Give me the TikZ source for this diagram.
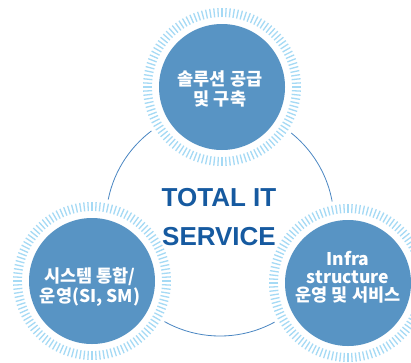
\documentclass[tikz,border=0pt]{standalone}
\usepackage{fontspec}
\newfontfamily\kr{Noto Sans CJK KR}
\newfontfamily\ttl{Liberation Sans}
\definecolor{disc}{HTML}{5894C4}
\definecolor{tick}{HTML}{A5DAF5}
\definecolor{ring}{HTML}{4A86C2}
\definecolor{title}{HTML}{165AA0}
\tikzset{
  solidc/.style={circle,fill=disc,minimum size=126pt,inner sep=0pt},
  labtxt/.style={text=white,align=center,font=\kr\bfseries\fontsize{17.5}{22}\selectfont},
  tickl/.style={draw=tick,line width=1.3pt},
}
\newcommand{\tickring}[1]{%
  \fill[white] (#1) circle (83);
  \foreach \a in {0,3,...,357} {\draw[tickl] ($(#1)+(\a:70)$) -- ($(#1)+(\a:79)$);}
}
\usetikzlibrary{calc}
\begin{document}
\begin{tikzpicture}[x=1pt,y=-1pt]
\useasboundingbox (0,0) rectangle (411,362);
\clip (0,0) rectangle (411,362);
\coordinate (big) at (220,222);
\coordinate (ct) at (222,87);
\coordinate (cl) at (92,281);
\coordinate (cr) at (348,283);
\draw[ring,line width=0.8pt] (big) circle (114);
\tickring{ct}
\tickring{cl}
\tickring{cr}
\node[solidc] (top) at (ct) {};
\node[solidc] (left) at (cl) {};
\node[solidc] (right) at (cr) {};
\node[labtxt] (toptxt) at (220,89) {솔루션 공급\\[-2pt]및 구축};
\node[labtxt] (lefttxt) at (90,287) {시스템 통합/\\[-2pt]운영(SI, SM)};
\node[labtxt,font=\kr\bfseries\fontsize{17.5}{20}\selectfont] (righttxt) at (348,277) {Infra\\[-2pt]structure\\[-2pt]운영 및 서비스};
\node[text=title,align=center,font=\ttl\bfseries\fontsize{26}{39}\selectfont] (center) at (219,217) {TOTAL\ IT\\SERVICE};
\end{tikzpicture}
\end{document}
